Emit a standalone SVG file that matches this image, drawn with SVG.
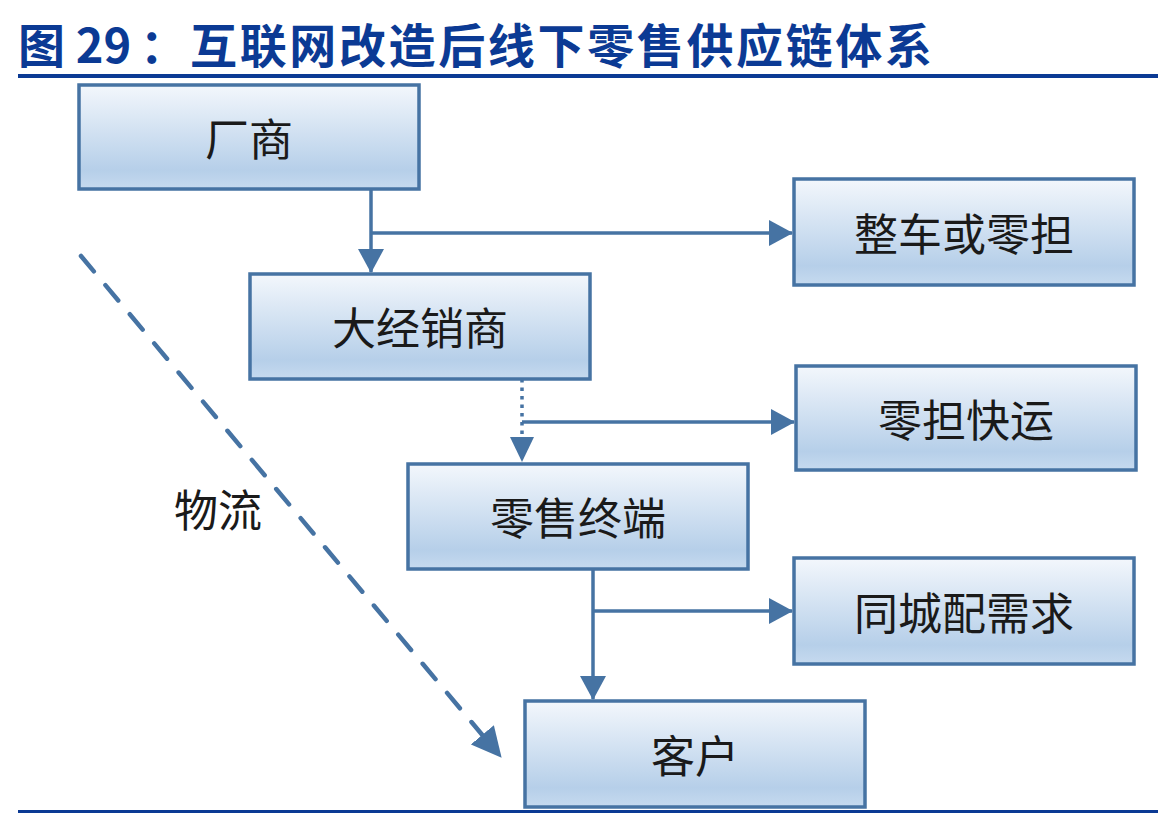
<svg xmlns="http://www.w3.org/2000/svg" width="1158" height="816" viewBox="0 0 1158 816">
<style>
.title{font-family:"Noto Sans CJK SC","Liberation Sans",sans-serif;font-weight:bold;font-size:47px;fill:#0b3a94}
.box{fill:url(#g);stroke:#4673a3;stroke-width:3.5}
.lbl{font-family:"Noto Sans CJK SC","Liberation Sans",sans-serif;font-size:44px;fill:#1a1a1a;text-anchor:middle;dominant-baseline:central}
.ln{stroke:#4673a3;stroke-width:3.5;fill:none}
</style>
<defs>
<linearGradient id="g" x1="0" y1="0" x2="0" y2="1">
<stop offset="0" stop-color="#f3f7fc"/>
<stop offset="0.82" stop-color="#b6cfe9"/>
<stop offset="1" stop-color="#c6daef"/>
</linearGradient>
<marker id="ah" markerUnits="userSpaceOnUse" markerWidth="24" markerHeight="26" viewBox="0 0 24 26" refX="23" refY="13" orient="auto">
<path d="M0,0 L24,13 L0,26 z" fill="#4673a3"/>
</marker>
<marker id="ah2" markerUnits="userSpaceOnUse" markerWidth="30" markerHeight="30" viewBox="0 0 30 30" refX="29" refY="15" orient="auto">
<path d="M0,0 L30,15 L0,30 z" fill="#4673a3"/>
</marker>
</defs>
<rect width="1158" height="816" fill="#ffffff"/>
<g id="title">
<text class="title" x="18" y="63">图 29</text>
<text class="title" x="140" y="63">：</text>
<text class="title" x="190" y="63" textLength="742" lengthAdjust="spacing">互联网改造后线下零售供应链体系</text>
<rect x="18" y="74" width="1140" height="4" fill="#0b3a94"/>
<rect x="18" y="810" width="1140" height="3" fill="#0b3a94"/>
</g>
<g id="connectors">
<path class="ln" d="M371,189 V272" marker-end="url(#ah)"/>
<path class="ln" d="M371,233 H792" marker-end="url(#ah)"/>
<path class="ln" d="M522,379 V420" style="stroke-dasharray:3.5,5"/>
<path class="ln" d="M522,422 V440" style="stroke-dasharray:3.5,5"/>
<path d="M510,437 L534,437 L522,462 z" fill="#4673a3"/>
<path class="ln" d="M522,422 H794" marker-end="url(#ah)"/>
<path class="ln" d="M593,569 V699" marker-end="url(#ah)"/>
<path class="ln" d="M593,611 H792" marker-end="url(#ah)"/>
<path class="ln" d="M81,256 L484,737" style="stroke-width:4.5;stroke-dasharray:20,18;stroke-linecap:round"/>
<path d="M81,256 L501,757" style="fill:none;stroke:none" marker-end="url(#ah2)"/>
</g>
<g id="n1"><rect class="box" x="79" y="85" width="340" height="104"/><text class="lbl" x="249" y="137">厂商</text></g>
<g id="n2"><rect class="box" x="794" y="179" width="340" height="106"/><text class="lbl" x="964" y="232">整车或零担</text></g>
<g id="n3"><rect class="box" x="250" y="274" width="340" height="105"/><text class="lbl" x="420" y="326">大经销商</text></g>
<g id="n4"><rect class="box" x="796" y="366" width="340" height="104"/><text class="lbl" x="966" y="418">零担快运</text></g>
<g id="n5"><rect class="box" x="408" y="464" width="340" height="105"/><text class="lbl" x="578" y="516">零售终端</text></g>
<g id="n6"><rect class="box" x="794" y="558" width="340" height="106"/><text class="lbl" x="964" y="611">同城配需求</text></g>
<g id="n7"><rect class="box" x="525" y="701" width="340" height="106"/><text class="lbl" x="695" y="754">客户</text></g>
<g id="label"><text class="lbl" x="218" y="508">物流</text></g>
</svg>
